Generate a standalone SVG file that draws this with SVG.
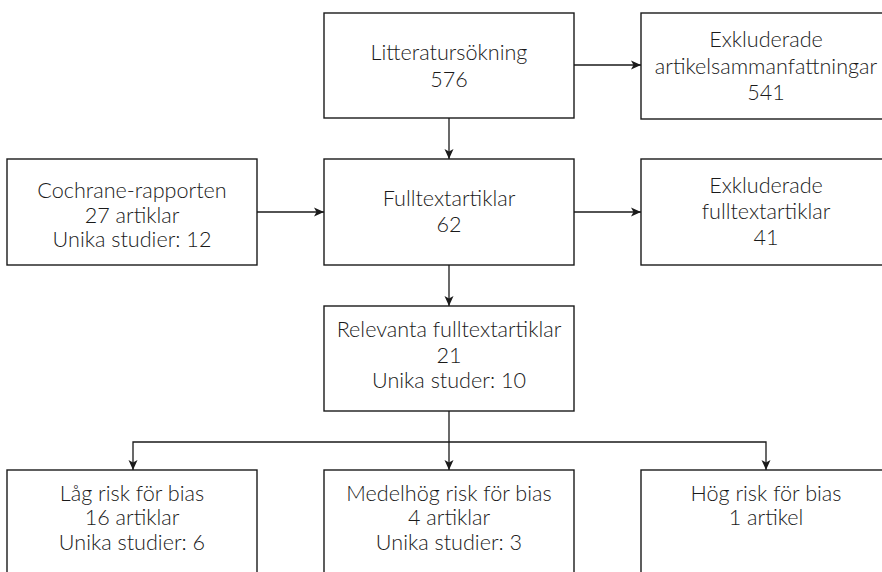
<svg xmlns="http://www.w3.org/2000/svg" width="882" height="572" viewBox="0 0 882 572">
<style>
.box{fill:#fff;stroke:#1a1a1a;stroke-width:1.4}
.t{font-family:Lato,"Open Sans","Liberation Sans",sans-serif;font-size:21.6px;font-weight:300;fill:#1a1a1a;text-anchor:middle}
.c{fill:none;stroke:#1a1a1a;stroke-width:1.3}
</style>
<defs>
<marker id="ah" viewBox="0 0 10 10" refX="10" refY="5" markerWidth="10" markerHeight="10" markerUnits="userSpaceOnUse" orient="auto">
<path d="M0,0.5 L10,5 L0,9.5 L2.5,5 Z" fill="#1a1a1a"/>
</marker>
</defs>
<rect width="882" height="572" fill="#fff"/>
<g id="connectors">
<line class="c" x1="574" y1="65" x2="641" y2="65" marker-end="url(#ah)"/>
<line class="c" x1="449" y1="118" x2="449" y2="159" marker-end="url(#ah)"/>
<line class="c" x1="257" y1="212" x2="324" y2="212" marker-end="url(#ah)"/>
<line class="c" x1="574" y1="212" x2="641" y2="212" marker-end="url(#ah)"/>
<line class="c" x1="449" y1="265" x2="449" y2="306" marker-end="url(#ah)"/>
<polyline class="c" points="449,411 449,442"/>
<polyline class="c" points="449,442 133,442 133,470" marker-end="url(#ah)"/>
<line class="c" x1="449" y1="442" x2="449" y2="470" marker-end="url(#ah)"/>
<polyline class="c" points="449,442 766,442 766,470" marker-end="url(#ah)"/>
</g>
<g id="n1"><rect class="box" x="324" y="13" width="250" height="105"/>
<text class="t" x="449" y="60">Litteratursökning</text><text class="t" x="449" y="87">576</text></g>
<g id="n2"><rect class="box" x="641" y="13" width="250" height="106"/>
<text class="t" x="766" y="47">Exkluderade</text><text class="t" x="766" y="74">artikelsammanfattningar</text><text class="t" x="766" y="100">541</text></g>
<g id="n3"><rect class="box" x="7" y="159" width="250" height="106"/>
<text class="t" x="132" y="198">Cochrane-rapporten</text><text class="t" x="132" y="223">27 artiklar</text><text class="t" x="132" y="247">Unika studier: 12</text></g>
<g id="n4"><rect class="box" x="324" y="159" width="250" height="106"/>
<text class="t" x="449" y="206">Fulltextartiklar</text><text class="t" x="449" y="232">62</text></g>
<g id="n5"><rect class="box" x="641" y="159" width="250" height="106"/>
<text class="t" x="766" y="193">Exkluderade</text><text class="t" x="766" y="219">fulltextartiklar</text><text class="t" x="766" y="245">41</text></g>
<g id="n6"><rect class="box" x="324" y="306" width="250" height="105"/>
<text class="t" x="449" y="337">Relevanta fulltextartiklar</text><text class="t" x="449" y="363">21</text><text class="t" x="449" y="388">Unika studer: 10</text></g>
<g id="n7"><rect class="box" x="7" y="470" width="250" height="106"/>
<text class="t" x="132" y="501">Låg risk för bias</text><text class="t" x="132" y="525">16 artiklar</text><text class="t" x="132" y="550">Unika studier: 6</text></g>
<g id="n8"><rect class="box" x="324" y="470" width="250" height="106"/>
<text class="t" x="449" y="501">Medelhög risk för bias</text><text class="t" x="449" y="525">4 artiklar</text><text class="t" x="449" y="550">Unika studier: 3</text></g>
<g id="n9"><rect class="box" x="641" y="470" width="250" height="106"/>
<text class="t" x="766" y="501">Hög risk för bias</text><text class="t" x="766" y="525">1 artikel</text></g>
</svg>
